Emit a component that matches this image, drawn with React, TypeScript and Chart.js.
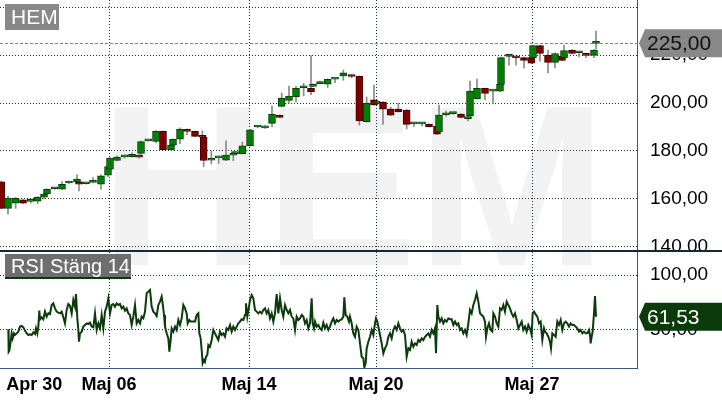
import React, { useEffect, useRef } from 'react';
import { Chart, registerables } from 'chart.js';

Chart.register(...registerables);

// time index (0 = left edge of the plot, 1911 = right edge)
const timeMax = 1911;

const candleTime = [
  4, 24, 47, 69, 92, 113, 132, 141, 164, 186, 207, 231, 237, 258, 279, 303, 324, 330, 351, 374,
  396, 417, 423, 445, 468, 489, 513, 519, 540, 561, 585, 607, 611, 634, 656, 678, 700, 705, 727, 750,
  773, 795, 816, 839, 845, 867, 888, 911, 933, 939, 960, 983, 1005, 1030, 1055, 1078, 1100, 1122, 1130, 1149,
  1172, 1195, 1220, 1242, 1266, 1287, 1311, 1317, 1338, 1359, 1383, 1404, 1410, 1431, 1455, 1479, 1500, 1503, 1527, 1548,
  1572, 1594, 1599, 1620, 1644, 1665, 1686, 1692, 1716, 1737, 1758, 1782, 1788,
];
const candleOpen = [
  167.1, 156.0, 158.2, 159.6, 158.9, 159.0, 160.7, 162.0, 164.2, 164.0, 166.6, 167.1, 167.1, 166.3, 166.9, 166.1, 169.9, 172.4, 176.0, 177.5,
  177.6, 178.2, 179.0, 184.2, 184.0, 188.2, 180.5, 182.4, 184.9, 189.0, 188.2, 186.4, 185.8, 176.1, 177.1, 176.1, 178.2, 178.9, 178.9, 182.2,
  190.0, 189.6, 191.5, 194.9, 198.6, 201.1, 202.6, 206.4, 206.1, 207.0, 208.1, 207.9, 210.0, 211.3, 211.8, 211.2, 192.2, 201.3, 200.0, 200.4,
  197.5, 197.5, 197.1, 191.3, 191.3, 191.1, 190.4, 188.0, 195.1, 195.6, 195.4, 193.5, 194.7, 201.8, 206.1, 205.0, 205.0, 207.8, 219.5, 219.4,
  219.0, 219.0, 219.0, 224.0, 219.9, 217.0, 219.6, 219.0, 222.1, 221.0, 220.7, 219.9, 224.9,
];
const candleHigh = [
  167.5, 161.0, 160.5, 159.8, 159.2, 160.9, 162.2, 164.2, 164.6, 167.2, 167.4, 170.0, 167.3, 166.7, 168.9, 170.0, 173.7, 177.2, 178.0, 178.2,
  179.2, 178.4, 184.2, 184.6, 188.4, 188.4, 182.6, 185.1, 189.6, 189.2, 188.3, 188.3, 186.0, 180.0, 177.5, 184.2, 179.1, 179.8, 183.7, 189.0,
  190.4, 190.6, 198.7, 195.1, 204.2, 207.1, 207.0, 208.2, 219.8, 208.0, 209.2, 210.1, 210.4, 213.8, 212.0, 211.4, 202.5, 207.5, 200.4, 200.6,
  198.3, 199.9, 197.3, 191.7, 191.7, 191.3, 190.6, 199.2, 196.6, 196.0, 195.6, 194.6, 209.2, 210.0, 206.3, 205.4, 208.0, 219.2, 219.9, 219.6,
  219.2, 220.3, 224.2, 224.2, 222.0, 221.0, 219.8, 224.2, 222.3, 221.4, 220.9, 222.3, 230.1,
];
const candleLow = [
  155.8, 153.6, 156.0, 158.0, 158.2, 158.0, 160.0, 161.8, 164.0, 163.8, 166.4, 167.0, 163.3, 166.1, 166.8, 164.0, 169.3, 171.4, 175.8, 177.0,
  177.4, 177.0, 178.0, 184.0, 183.4, 180.3, 180.3, 181.0, 183.0, 186.8, 185.9, 185.5, 173.5, 174.6, 174.8, 175.9, 175.9, 178.7, 178.7, 182.0,
  189.6, 189.4, 190.1, 193.8, 198.4, 200.0, 200.5, 203.0, 203.5, 206.8, 208.0, 206.5, 208.5, 209.5, 210.6, 190.8, 192.0, 199.0, 199.8, 191.1,
  194.7, 196.2, 189.2, 190.2, 190.5, 189.9, 186.8, 187.8, 194.5, 195.4, 193.8, 192.5, 194.5, 201.6, 201.4, 199.6, 204.8, 207.6, 215.8, 215.8,
  214.7, 216.5, 218.8, 217.5, 212.6, 214.7, 217.6, 218.8, 220.5, 219.3, 219.0, 219.0, 222.5,
];
const candleClose = [
  156.0, 160.3, 160.3, 158.2, 159.0, 160.7, 162.0, 164.0, 164.4, 166.1, 167.2, 168.2, 166.1, 166.5, 167.1, 169.6, 173.5, 177.0, 177.4, 177.7,
  178.6, 177.4, 183.9, 184.4, 188.2, 180.5, 182.4, 184.9, 189.0, 188.2, 186.1, 185.7, 176.0, 176.9, 177.3, 178.3, 178.9, 179.6, 182.1, 188.8,
  190.2, 190.4, 195.3, 194.0, 202.1, 202.9, 206.1, 206.6, 204.7, 207.8, 208.3, 209.9, 210.2, 212.6, 211.1, 192.5, 199.9, 199.2, 200.2, 197.4,
  194.9, 196.4, 191.1, 191.5, 191.5, 190.1, 187.0, 195.0, 195.7, 195.8, 194.0, 194.4, 205.0, 206.1, 204.0, 205.2, 207.8, 219.0, 219.7, 218.9,
  217.8, 216.7, 224.0, 220.7, 217.0, 220.7, 217.8, 221.9, 220.7, 221.2, 219.9, 222.1, 225.0,
];

const rsiTime = [
  25, 26, 28, 32, 35, 38, 42, 45, 50, 55, 60, 65, 70, 75, 80, 85, 90, 95, 100, 105,
  108, 112, 115, 118, 120, 125, 130, 135, 140, 145, 150, 155, 160, 165, 170, 175, 180, 185, 190, 195,
  200, 205, 210, 215, 220, 225, 228, 232, 235, 237, 240, 245, 250, 255, 260, 265, 270, 275, 280, 285,
  290, 295, 300, 305, 310, 315, 320, 325, 330, 335, 340, 345, 350, 355, 360, 365, 370, 375, 380, 385,
  390, 395, 400, 405, 410, 415, 420, 425, 430, 435, 440, 445,
  450, 455, 460, 465, 470, 475, 480, 485, 488, 492, 495, 500, 505, 508, 512, 515, 520, 525, 530, 535,
  540, 545, 550, 555, 560, 563, 568, 572, 580, 585, 590, 595, 598, 602, 605, 608, 612, 615, 618, 622,
  625, 630, 635, 640, 645, 650, 655, 660, 665, 670, 675, 680, 685, 690, 695, 700, 705, 710, 715, 720,
  725, 730, 735, 738, 742, 747, 750, 755, 760, 765, 770, 775, 780, 785, 790, 795, 800, 805, 810, 815,
  820, 825, 830, 835, 840, 845, 850, 855, 860, 865, 870, 875, 880, 885, 890, 895,
  900, 905, 910, 915, 920, 925, 930, 935, 938, 942, 945, 950, 955, 960, 965, 970, 975, 980, 985, 990,
  995, 1000, 1005, 1010, 1015, 1020, 1025, 1030, 1033, 1037, 1042, 1047, 1050, 1055, 1060, 1065, 1070, 1075, 1080, 1085,
  1090, 1093, 1097, 1100, 1105, 1110, 1115, 1120, 1125, 1128, 1132, 1137, 1140, 1145, 1150, 1155, 1160, 1165, 1170, 1175,
  1180, 1185, 1190, 1195, 1200, 1205, 1210, 1215, 1220, 1225, 1230, 1235, 1240, 1245, 1250, 1255, 1260, 1265, 1270, 1275,
  1280, 1285, 1290, 1295, 1300, 1305, 1308, 1312, 1315, 1320, 1325, 1330, 1335, 1340, 1345,
  1350, 1355, 1360, 1365, 1370, 1375, 1380, 1385, 1390, 1395, 1400, 1405, 1410, 1415, 1420, 1425, 1430, 1435, 1440, 1445,
  1450, 1455, 1458, 1462, 1467, 1472, 1477, 1480, 1485, 1490, 1495, 1500, 1505, 1510, 1515, 1520, 1525, 1530, 1535, 1540,
  1545, 1550, 1555, 1560, 1565, 1570, 1575, 1580, 1585, 1590, 1595, 1598, 1602, 1608, 1612, 1617, 1622, 1627, 1632, 1635,
  1640, 1645, 1650, 1653, 1657, 1662, 1667, 1672, 1677, 1682, 1687, 1692, 1697, 1702, 1707, 1712, 1717, 1722, 1727, 1732,
  1737, 1742, 1747, 1752, 1757, 1762, 1767, 1770, 1772, 1775, 1778, 1782, 1785, 1788,
];
const rsiValue = [
  50.0, 29.4, 30.4, 38.6, 46.3, 41.7, 46.3, 44.8, 46.3, 47.9, 52.5, 53.1, 51.8, 48.8, 46.3, 44.8, 45.4, 44.8, 47.2, 45.7,
  50.9, 46.3, 52.5, 67.2, 59.2, 61.1, 59.2, 66.3, 61.7, 64.7, 64.1, 72.4, 73.9, 69.3, 66.3, 65.4, 64.7, 66.3, 61.1, 55.5,
  67.8, 73.3, 71.5, 64.7, 77.0, 70.9, 82.5, 60.1, 49.4, 38.6, 46.3, 47.9, 52.5, 54.0, 55.5, 54.9, 56.1, 52.5, 51.8, 64.7,
  49.4, 55.5, 50.9, 63.2, 50.9, 66.3, 70.9, 78.6, 64.7, 72.4, 73.3, 70.9, 73.9, 72.4, 73.3, 69.3, 70.9, 67.2, 69.3, 64.7,
  63.2, 54.0, 61.7, 72.4, 55.5, 58.6, 55.5, 61.7, 60.1, 66.3, 83.2, 84.7,
  86.2, 70.9, 66.3, 64.7, 62.3, 72.4, 75.5, 80.1, 73.9, 63.2, 52.5, 46.3, 41.7, 29.4, 40.2, 50.9, 47.9, 52.5, 49.4, 58.6,
  54.0, 60.1, 72.4, 69.3, 64.7, 55.5, 58.6, 57.1, 57.1, 57.1, 63.2, 64.7, 46.3, 41.7, 31.0, 18.7, 21.8, 20.2, 24.8, 26.4,
  35.6, 34.0, 40.2, 49.4, 46.3, 43.2, 40.2, 47.9, 44.8, 46.3, 43.2, 50.9, 49.4, 54.0, 47.9, 52.5, 49.4, 52.5, 55.5, 57.1,
  59.2, 58.6, 63.2, 73.9, 61.7, 70.9, 77.0, 81.6, 78.6, 67.8, 66.3, 64.7, 66.3, 64.7, 67.8, 69.3, 64.7, 67.8, 60.1, 64.7,
  57.1, 64.7, 82.5, 64.7, 78.6, 67.8, 61.7, 72.4, 67.8, 64.7, 67.8, 61.7, 60.1, 49.4, 61.7, 58.6,
  60.1, 63.2, 61.7, 55.5, 58.6, 50.9, 55.5, 78.6, 55.5, 50.9, 57.1, 52.5, 54.0, 50.9, 49.4, 56.1, 50.9, 54.0, 49.4, 52.5,
  57.1, 60.1, 55.5, 58.6, 57.1, 58.6, 59.2, 61.7, 79.5, 63.2, 61.7, 57.1, 61.7, 55.5, 46.3, 43.2, 52.5, 49.4, 37.1, 24.8,
  23.3, 15.0, 18.7, 32.5, 38.6, 43.2, 49.4, 44.8, 55.5, 60.1, 57.1, 49.4, 44.8, 37.1, 27.9, 32.5, 35.6, 43.2, 46.3, 41.7,
  49.4, 52.5, 49.4, 55.5, 50.9, 47.9, 49.4, 44.8, 24.8, 32.5, 31.0, 38.6, 34.0, 37.1, 35.6, 40.2, 38.6, 41.7, 40.2, 43.2,
  44.8, 46.3, 43.2, 49.4, 46.3, 50.9, 27.9, 72.4, 61.7, 57.1, 60.1, 55.5, 58.6, 57.1, 60.1,
  59.2, 59.2, 54.0, 57.1, 54.0, 55.5, 49.4, 50.9, 46.3, 49.4, 44.8, 55.5, 67.8, 64.7, 72.4, 77.0, 83.2, 75.5, 64.7, 63.2,
  61.7, 57.1, 43.2, 50.9, 55.5, 49.4, 47.9, 64.7, 61.7, 55.5, 52.5, 69.3, 67.8, 72.4, 66.3, 75.5, 72.4, 69.3, 64.7, 61.7,
  64.7, 58.6, 50.9, 54.0, 57.1, 49.4, 52.5, 47.9, 54.0, 50.9, 44.8, 64.7, 66.3, 63.2, 61.7, 55.5, 57.1, 40.2, 50.9, 47.9,
  46.3, 43.2, 38.6, 32.5, 46.3, 44.8, 43.2, 57.1, 54.0, 58.6, 49.4, 55.5, 57.1, 55.5, 52.5, 55.5, 54.0, 54.0, 52.5, 50.9,
  47.9, 49.4, 46.3, 47.9, 46.3, 46.3, 49.4, 44.8, 37.1, 43.2, 47.9, 64.7, 80.7, 61.53,
];

const dateTicks = [103, 327, 747, 1128, 1596];
const dateLabels = ['Apr 30', 'Maj 06', 'Maj 14', 'Maj 20', 'Maj 27'];
const priceTicks = [140, 160, 180, 200, 220, 240];
const rsiTicks = [50, 100];

const lastPrice = 225.0;
const lastRsi = 61.53;

const FONT = '"Liberation Sans", Arial, sans-serif';
const gridColor = '#1d3344';
const frameColor = '#37587c';

const fmt = (v: number) => v.toFixed(2).replace('.', ',');

// no extra room for half labels at the ends of the axes
const noPadding = (s: any) => {
  s.paddingTop = 0;
  s.paddingBottom = 0;
  s.paddingLeft = 0;
  s.paddingRight = 0;
};

function drawTag(ctx: CanvasRenderingContext2D, left: number, right: number, y: number, text: string, fill: string, color: string) {
  ctx.save();
  ctx.fillStyle = fill;
  ctx.beginPath();
  ctx.moveTo(left + 2, y);
  ctx.lineTo(left + 8, y - 14);
  ctx.lineTo(right, y - 14);
  ctx.lineTo(right, y + 14);
  ctx.lineTo(left + 8, y + 14);
  ctx.closePath();
  ctx.fill();
  ctx.fillStyle = color;
  ctx.font = `21px ${FONT}`;
  ctx.textBaseline = 'middle';
  ctx.fillText(text, left + 10, y + 1);
  ctx.restore();
}

function drawTitle(ctx: CanvasRenderingContext2D, x: number, y: number, w: number, h: number, text: string, fill: string, size: number, underline?: string) {
  ctx.save();
  ctx.fillStyle = fill;
  ctx.fillRect(x, y, w, h);
  if (underline) {
    ctx.fillStyle = underline;
    ctx.fillRect(x, y + h - 1, w, 2);
  }
  ctx.fillStyle = '#ffffff';
  ctx.font = `${size}px ${FONT}`;
  ctx.textBaseline = 'middle';
  ctx.fillText(text, x + 6, y + h / 2 + 1);
  ctx.restore();
}

const panelPlugin = {
  id: 'panels',
  beforeDraw(chart: any) {
    const { ctx } = chart;
    ctx.save();
    ctx.fillStyle = '#f2f2f2';
    ctx.font = `bold 228px ${FONT}`;
    ctx.textBaseline = 'alphabetic';
    ctx.fillText('HEM', 100, 265);
    ctx.restore();
  },
  beforeDatasetsDraw(chart: any) {
    const { ctx, chartArea } = chart;
    const price = chart.scales.y;
    ctx.save();
    // price labels stop at the panel edge
    ctx.fillStyle = '#ffffff';
    ctx.fillRect(price.left + 1, price.bottom + 1, chart.width - price.left, chart.height - price.bottom);
    const yp = Math.round(price.getPixelForValue(lastPrice)) + 0.5;
    ctx.strokeStyle = '#808080';
    ctx.lineWidth = 1;
    ctx.setLineDash([3, 2]);
    ctx.beginPath();
    ctx.moveTo(chartArea.left, yp);
    ctx.lineTo(chartArea.right + 2, yp);
    ctx.stroke();
    ctx.restore();
  },
  afterDraw(chart: any) {
    const { ctx } = chart;
    const price = chart.scales.y;
    const rsi = chart.scales.rsi;
    ctx.save();
    ctx.fillStyle = '#142838';
    ctx.fillRect(0, price.bottom - 1, chart.width, 2);
    ctx.restore();
    drawTag(ctx, price.left, chart.width, price.getPixelForValue(lastPrice), fmt(lastPrice), '#888888', '#111111');
    drawTag(ctx, rsi.left, chart.width, rsi.getPixelForValue(lastRsi), fmt(lastRsi), '#0b3a0b', '#ffffff');
    drawTitle(ctx, 5, 4, 54, 26, 'HEM', '#888888', 21);
    drawTitle(ctx, 5, rsi.top + 3, 126, 24, 'RSI Stäng 14', '#6e6e6e', 20, '#0b3a0b');
  },
};

export default function App() {
  const canvasRef = useRef<HTMLCanvasElement>(null);

  useEffect(() => {
    if (!canvasRef.current) return;
    document.body.style.margin = '0';

    const bullish = candleOpen.map((o, i) => candleClose[i] >= o);

    const chart = new Chart(canvasRef.current, {
      type: 'bar',
      data: {
        datasets: [
          {
            type: 'line',
            label: 'RSI',
            data: rsiTime.map((t, i) => ({ x: t, y: rsiValue[i] })),
            yAxisID: 'rsi',
            borderColor: '#0b3a0b',
            borderWidth: 2,
            pointRadius: 0,
            tension: 0,
            order: 0,
          },
          {
            type: 'bar',
            label: 'Body',
            data: candleTime.map((t, i) => ({ x: t, y: [candleOpen[i], candleClose[i]] })),
            yAxisID: 'y',
            backgroundColor: bullish.map((b) => (b ? '#008000' : '#800000')),
            borderColor: bullish.map((b) => (b ? '#0b3d0b' : '#3d0000')),
            borderWidth: 1,
            borderSkipped: false,
            barThickness: 7,
            minBarLength: 2,
            grouped: false,
            order: 1,
          },
          {
            type: 'bar',
            label: 'Wick',
            data: candleTime.map((t, i) => ({ x: t, y: [candleLow[i], candleHigh[i]] })),
            yAxisID: 'y',
            backgroundColor: '#8a8a8a',
            borderWidth: 0,
            barThickness: 1,
            grouped: false,
            order: 2,
          },
        ] as any,
      },
      options: {
        responsive: false,
        animation: false,
        events: [],
        layout: { padding: 0 },
        plugins: { legend: { display: false }, tooltip: { enabled: false } },
        scales: {
          x: {
            type: 'linear',
            min: 0,
            max: timeMax,
            offset: false,
            grid: {
              offset: false,
              drawTicks: false,
              color: (c: any) => (c.index === 0 ? 'rgba(0,0,0,0)' : gridColor),
            },
            border: { color: frameColor, dash: [1, 2] },
            afterBuildTicks: (s: any) => {
              s.ticks = dateTicks.map((v) => ({ value: v }));
            },
            afterFit: (s: any) => {
              s.height = 32;
              noPadding(s);
            },
            ticks: {
              autoSkip: false,
              maxRotation: 0,
              padding: 6,
              color: '#000000',
              font: { family: FONT, size: 18, weight: 'bold' },
              callback: (_v: any, i: number) => dateLabels[i],
            },
          },
          y: {
            type: 'linear',
            position: 'right',
            stack: 'panels',
            stackWeight: 251,
            min: 138.2,
            max: 243.05,
            grid: { drawTicks: false, color: gridColor },
            border: { color: frameColor, dash: [1, 2] },
            afterBuildTicks: (s: any) => {
              s.ticks = priceTicks.map((v) => ({ value: v }));
            },
            afterFit: (s: any) => {
              s.width = 85;
              noPadding(s);
            },
            ticks: {
              padding: 13,
              color: '#000000',
              font: { family: FONT, size: 19 },
              callback: (v: any) => (v === 240 ? '' : fmt(Number(v))),
            },
          },
          rsi: {
            type: 'linear',
            position: 'right',
            stack: 'panels',
            stackWeight: 117,
            min: 14.4,
            max: 122.1,
            grid: { drawTicks: false, color: gridColor },
            border: { color: frameColor, dash: [1, 2] },
            afterBuildTicks: (s: any) => {
              s.ticks = rsiTicks.map((v) => ({ value: v }));
            },
            afterFit: (s: any) => {
              s.width = 85;
              noPadding(s);
            },
            ticks: {
              z: 1,
              padding: 13,
              color: '#000000',
              font: { family: FONT, size: 19 },
              callback: (v: any) => fmt(Number(v)),
            },
          },
        },
      } as any,
      plugins: [panelPlugin],
    });

    return () => {
      chart.destroy();
    };
  }, []);

  return (
    <div style={{ position: 'absolute', left: 0, top: 0, width: 722, height: 400, background: '#ffffff' }}>
      <canvas ref={canvasRef} width={722} height={400}></canvas>
    </div>
  );
}
